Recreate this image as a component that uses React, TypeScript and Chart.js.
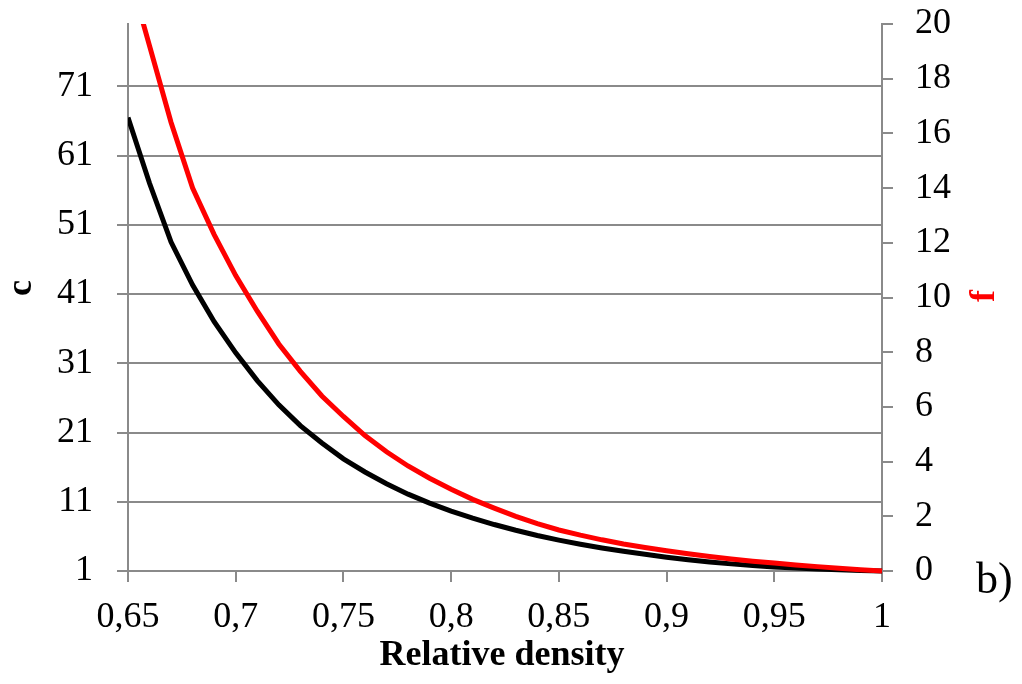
import React, { useEffect, useRef } from "react";
import { Chart, registerables } from "chart.js";

Chart.register(...registerables);

// Relative density (x)
const density = [
  0.65, 0.66, 0.67, 0.68, 0.69, 0.7, 0.71, 0.72, 0.73, 0.74, 0.75, 0.76,
  0.77, 0.78, 0.79, 0.8, 0.81, 0.82, 0.83, 0.84, 0.85, 0.86, 0.87, 0.88,
  0.89, 0.9, 0.91, 0.92, 0.93, 0.94, 0.95, 0.96, 0.97, 0.98, 0.99, 1.0,
];

// c (left axis, black)
const cValues = [
  66.5, 57, 48.5, 42.3, 37, 32.5, 28.5, 25, 22, 19.5, 17.2, 15.3,
  13.6, 12.1, 10.8, 9.65, 8.63, 7.71, 6.88, 6.13, 5.46, 4.86, 4.32, 3.84,
  3.41, 3.0, 2.63, 2.31, 2.03, 1.79, 1.59, 1.42, 1.28, 1.17, 1.08, 1.0,
];

// f (right axis, red)
const fValues = [
  22, 19.2, 16.4, 14.0, 12.3, 10.8, 9.5, 8.3, 7.3, 6.4, 5.65, 4.95,
  4.36, 3.84, 3.39, 2.99, 2.62, 2.3, 2.0, 1.73, 1.5, 1.31, 1.14, 0.99,
  0.86, 0.74, 0.63, 0.53, 0.44, 0.36, 0.29, 0.22, 0.16, 0.1, 0.05, 0,
];

const xTicks = [0.65, 0.7, 0.75, 0.8, 0.85, 0.9, 0.95, 1];
const cTicks = [1, 11, 21, 31, 41, 51, 61, 71];

const xTitle = "Relative density";
const cTitle = "c";
const fTitle = "f";
const panelLabel = "b)";

const SERIF = "'Times New Roman', 'Liberation Serif', serif";
const GRID = "#8a8a8a";

const fmt = (v: number) => String(v).replace(".", ",");

export default function App() {
  const ref = useRef<HTMLCanvasElement>(null);

  useEffect(() => {
    document.body.style.margin = "0";
    const canvas = ref.current;
    if (!canvas) return;

    const titles = {
      id: "titles",
      afterDraw(chart: any) {
        const ctx = chart.ctx as CanvasRenderingContext2D;
        const a = chart.chartArea;
        ctx.save();
        ctx.textBaseline = "alphabetic";
        ctx.textAlign = "center";
        ctx.font = `bold 36px ${SERIF}`;
        ctx.fillStyle = "#000000";
        ctx.fillText(xTitle, (a.left + a.right) / 2 - 3, 665);

        ctx.save();
        ctx.translate(31, 288);
        ctx.rotate(-Math.PI / 2);
        ctx.fillText(cTitle, 0, 0);
        ctx.restore();

        ctx.fillStyle = "#ff0000";
        ctx.save();
        ctx.translate(994, 296);
        ctx.rotate(-Math.PI / 2);
        ctx.fillText(fTitle, 0, 0);
        ctx.restore();

        ctx.fillStyle = "#000000";
        ctx.font = `44px ${SERIF}`;
        ctx.textAlign = "left";
        ctx.fillText(panelLabel, 976, 593);
        ctx.restore();
      },
    };

    const tickFont = { family: SERIF, size: 36 };
    const clip = { left: 0, top: 0, right: 4, bottom: 4 };
    const noPad = (s: any) => {
      s.paddingTop = 0;
      s.paddingBottom = 0;
      s.paddingLeft = 0;
      s.paddingRight = 0;
    };

    const chart = new Chart(canvas, {
      type: "line",
      data: {
        datasets: [
          {
            label: "f",
            data: density.map((x, i) => ({ x, y: fValues[i] })),
            yAxisID: "yf",
            borderColor: "#ff0000",
            backgroundColor: "#ff0000",
            borderWidth: 5,
            pointRadius: 0,
            tension: 0,
            order: 1,
            clip: clip as any,
          },
          {
            label: "c",
            data: density.map((x, i) => ({ x, y: cValues[i] })),
            yAxisID: "yc",
            borderColor: "#000000",
            backgroundColor: "#000000",
            borderWidth: 5,
            pointRadius: 0,
            tension: 0,
            order: 2,
            clip: clip as any,
          },
        ],
      },
      options: {
        animation: false,
        responsive: false,
        layout: { padding: { top: 24, left: 0, right: 0, bottom: 0 } },
        plugins: {
          legend: { display: false },
          tooltip: { enabled: false },
        },
        scales: {
          x: {
            type: "linear",
            position: "bottom",
            min: 0.65,
            max: 1,
            afterBuildTicks: (s: any) => {
              s.ticks = xTicks.map((v) => ({ value: v }));
            },
            afterFit: (s: any) => {
              s.height = 113;
              noPad(s);
            },
            ticks: {
              font: tickFont,
              color: "#000000",
              padding: 14,
              maxRotation: 0,
              autoSkip: false,
              callback: (v: any) => fmt(Number(v)),
            },
            grid: {
              drawOnChartArea: false,
              drawTicks: true,
              tickLength: 11,
              color: GRID,
              lineWidth: 2,
            },
            border: { color: GRID, width: 2 },
          },
          yc: {
            type: "linear",
            position: "left",
            min: 1,
            max: 80,
            afterBuildTicks: (s: any) => {
              s.ticks = cTicks.map((v) => ({ value: v }));
            },
            afterFit: (s: any) => {
              s.width = 128;
              noPad(s);
            },
            ticks: {
              font: tickFont,
              color: "#000000",
              padding: 24,
              autoSkip: false,
              callback: (v: any) => String(v),
            },
            grid: {
              drawOnChartArea: true,
              drawTicks: true,
              tickLength: 11,
              color: GRID,
              lineWidth: 2,
            },
            border: { color: GRID, width: 2 },
          },
          yf: {
            type: "linear",
            position: "right",
            min: 0,
            max: 20,
            afterFit: (s: any) => {
              s.width = 140;
              noPad(s);
            },
            ticks: {
              font: tickFont,
              color: "#000000",
              padding: 22,
              stepSize: 2,
              autoSkip: false,
            },
            grid: {
              drawOnChartArea: false,
              drawTicks: true,
              tickLength: 11,
              color: GRID,
              lineWidth: 2,
            },
            border: { color: GRID, width: 2 },
          },
        },
      },
      plugins: [titles],
    });

    return () => chart.destroy();
  }, []);

  return (
    <canvas
      ref={ref}
      width={1022}
      height={684}
      style={{ display: "block", width: 1022, height: 684 }}
    />
  );
}
